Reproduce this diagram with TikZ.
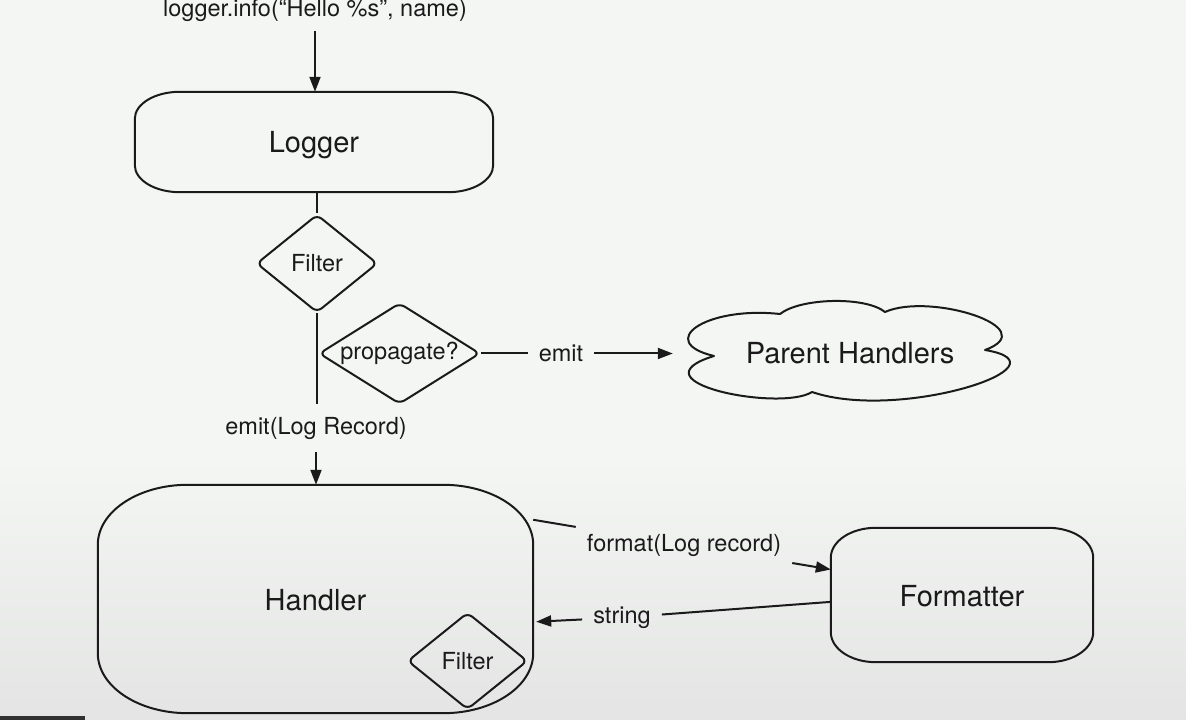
\documentclass[tikz,border=0pt]{standalone}
\usepackage{fontspec}
\setmainfont{TeX Gyre Heros}
\usetikzlibrary{arrows.meta,shapes.geometric}
\definecolor{bgtop}{HTML}{F4F6F4}
\definecolor{bgbot}{HTML}{E3E4E3}
\definecolor{ink}{HTML}{1A1A1A}

% rounded box with elliptical corners around a node: #1 node, #2 rx, #3 ry
\newcommand\ovalframe[3]{%
  \draw[outline] ([xshift=#2]#1.north west) -- ([xshift=-#2]#1.north east)
    arc[start angle=90,end angle=0,x radius=#2,y radius=#3]
    -- ([yshift=#3]#1.south east)
    arc[start angle=0,end angle=-90,x radius=#2,y radius=#3]
    -- ([xshift=#2]#1.south west)
    arc[start angle=270,end angle=180,x radius=#2,y radius=#3]
    -- ([yshift=-#3]#1.north west)
    arc[start angle=180,end angle=90,x radius=#2,y radius=#3] -- cycle;}

\tikzset{
  outline/.style={draw=ink, line width=2pt},
  conn/.style={draw=ink, line width=2pt},
  arrow/.style={conn, -{Triangle[length=15pt,width=11pt]}},
  big/.style={font=\fontsize{29}{34}\selectfont, text=ink},
  small/.style={font=\fontsize{23.5}{28}\selectfont, text=ink},
  lbl/.style={small, inner xsep=11pt, inner ysep=9pt},
  boxnode/.style={big, inner sep=0pt},
  dia/.style={shape=diamond, outline, rounded corners=6pt, inner sep=0pt, small},
}

\begin{document}
\begin{tikzpicture}[x=1pt,y=1pt]
  \useasboundingbox (0,0) rectangle (1186,720);
  % background
  \fill[bgtop] (0,0) rectangle (1186,720);
  \shade[top color=bgtop, bottom color=bgbot] (0,0) rectangle (1186,260);
  \fill[ink!90] (0,0) rectangle (85,4);

  % call site
  \node[lbl, anchor=base] (call) at (315,703) {logger.info(“Hello \%s”, name)};

  % Logger
  \node[boxnode, minimum width=358pt, minimum height=100pt] (logger) at (314,578)
    {\raisebox{-3pt}[\height][\depth]{Logger}};
  \ovalframe{logger}{45pt}{27pt}
  \draw[arrow] (call.south) -- (call.south |- logger.north);

  % logger filter
  \node[dia, minimum width=121pt, minimum height=98pt, aspect=1.25] (filter1) at (317,456.5) {Filter};
  \draw[conn] (filter1.north |- logger.south) -- (filter1.north);

  % propagate decision
  \node[dia, minimum width=161pt, minimum height=101pt, aspect=1.6] (prop) at (399.5,366.5) {propagate?};

  % parent handlers cloud
  \node[boxnode, minimum width=329pt, minimum height=97pt] (parent) at (850,366.5) {Parent Handlers};
  \draw[outline, line join=round]
    (714,364) .. controls (655,378) and (705,414) .. (780,406)
    .. controls (800,422) and (865,424) .. (885,408)
    .. controls (930,428) and (1045,392) .. (985,370)
    .. controls (1075,355) and (900,298) .. (812,328)
    .. controls (780,308) and (630,338) .. (714,364) -- cycle;

  \node[lbl] (emit) at (561,366.5) {emit};
  \draw[conn] (prop.east) -- (emit.west);
  \draw[arrow, shorten >=12.5pt] (emit.east) -- (parent.west);

  % record passed to the handler
  \node[lbl, inner ysep=13pt] (emitlr) at (316,292) {emit(Log Record)};
  \draw[conn] (filter1.south) -- (filter1.south |- emitlr.north);

  % Handler
  \node[boxnode, minimum width=435pt, minimum height=228pt] (handler) at (315.5,121)
    {\raisebox{-1pt}[\height][\depth]{Handler}};
  \ovalframe{handler}{90pt}{60pt}
  \draw[arrow] (emitlr.south) -- (emitlr.south |- handler.north);

  % handler filter
  \node[dia, minimum width=120pt, minimum height=97pt, aspect=1.25] (filter2) at (467.5,59) {Filter};

  % Formatter
  \node[boxnode, minimum width=262pt, minimum height=134pt] (formatter) at (962,125)
    {\raisebox{-1pt}[\height][\depth]{Formatter}};
  \ovalframe{formatter}{45pt}{30pt}

  \node[lbl] (fmt) at (684,175) {format(Log record)};
  \draw[conn] (handler.20.4) -- (fmt);
  \draw[arrow] (fmt) -- (formatter.169.6);

  \node[lbl] (str) at (622,102.5) {string};
  \draw[conn] (formatter.183.9) -- (str);
  \draw[arrow, shorten >=3pt] (str) -- (handler.-6.6);
\end{tikzpicture}
\end{document}
